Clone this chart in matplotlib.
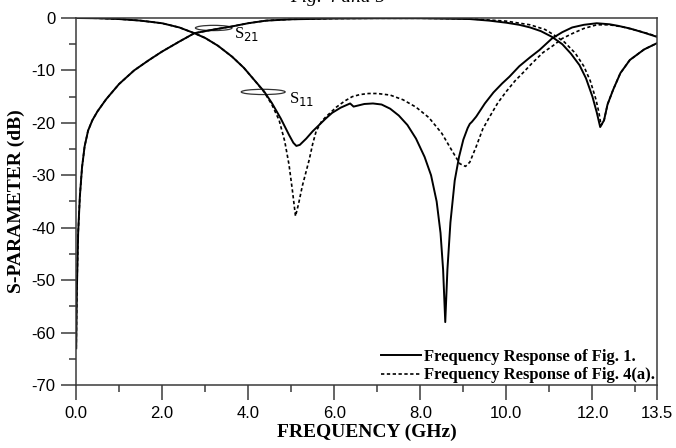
import numpy as np
import matplotlib.pyplot as plt
from matplotlib.ticker import MultipleLocator, FixedLocator
from matplotlib.patches import Ellipse

# S11, response of Fig. 1 (solid)
f_s11_a = [0.0, 0.5, 1.0, 1.5, 2.0, 2.4, 2.75, 3.0, 3.3, 3.63, 3.9, 4.15, 4.37,
           4.55, 4.76, 4.95, 5.05, 5.12, 5.2, 5.35, 5.5, 5.65, 5.8, 5.95, 6.15,
           6.37, 6.45, 6.55, 6.7, 6.9, 7.1, 7.3, 7.5, 7.7, 7.9, 8.1, 8.25, 8.38,
           8.47, 8.53, 8.58, 8.63, 8.7, 8.8, 8.9, 9.0, 9.1, 9.15, 9.2, 9.3, 9.5,
           9.7, 9.9, 10.07, 10.3, 10.55, 10.77, 11.06, 11.3, 11.53, 11.8, 12.1,
           12.4, 12.6, 12.87, 13.2, 13.5]
s11_a = [0.0, -0.05, -0.2, -0.5, -1.0, -1.8, -2.9, -3.8, -5.3, -7.4, -9.5, -11.9,
         -14.0, -16.2, -19.2, -22.3, -23.8, -24.4, -24.2, -23.0, -21.6, -20.4,
         -19.2, -18.1, -17.1, -16.3, -16.9, -16.7, -16.4, -16.3, -16.5, -17.3,
         -18.6, -20.4, -23.0, -26.5, -30.0, -35.0, -41.0, -48.0, -58.0, -48.0,
         -39.0, -31.0, -26.5, -23.2, -21.0, -20.2, -19.8, -18.8, -16.3, -14.2,
         -12.5, -11.2, -9.2, -7.5, -6.1, -3.9, -2.7, -1.8, -1.3, -1.0, -1.2,
         -1.5, -2.0, -2.8, -3.6]

# S11, response of Fig. 4(a) (dashed)
f_s11_b = [0.0, 0.5, 1.0, 1.5, 2.0, 2.4, 2.75, 3.0, 3.3, 3.63, 3.9, 4.15, 4.37,
           4.55, 4.72, 4.85, 4.95, 5.03, 5.1, 5.17, 5.26, 5.34, 5.42, 5.5, 5.58,
           5.7, 5.8, 6.05, 6.25, 6.42, 6.6, 6.8, 7.0, 7.3, 7.6, 7.9, 8.2, 8.5,
           8.75, 8.92, 9.05, 9.15, 9.3, 9.45, 9.6, 9.8, 10.0, 10.2, 10.38, 10.6,
           10.85, 11.08, 11.3, 11.55, 11.8, 12.1, 12.4, 12.7, 13.0, 13.3, 13.5]
s11_b = [0.0, -0.05, -0.2, -0.5, -1.0, -1.8, -2.9, -3.8, -5.3, -7.4, -9.5, -11.9,
         -14.1, -16.5, -19.5, -23.5, -28.0, -33.0, -37.8, -35.5, -32.0, -29.5,
         -27.0, -24.0, -21.6, -19.8, -18.9, -17.0, -15.8, -15.0, -14.6, -14.4,
         -14.4, -14.7, -15.6, -17.0, -19.0, -22.0, -25.5, -27.8, -28.3, -27.5,
         -24.5, -21.2, -19.0, -16.2, -14.0, -12.0, -10.5, -8.6, -6.6, -5.3,
         -3.9, -2.9, -2.0, -1.3, -1.3, -1.7, -2.3, -3.0, -3.5]

# S21, response of Fig. 1 (solid)
f_s21_a = [0.005, 0.02, 0.05, 0.09, 0.14, 0.2, 0.28, 0.38, 0.5, 0.7, 1.0, 1.35,
           1.7, 2.0, 2.4, 2.75, 3.2, 3.63, 4.0, 4.42, 5.0, 6.0, 7.0, 8.0, 9.15,
           9.6, 10.0, 10.3, 10.55, 10.8, 11.06, 11.3, 11.5, 11.7, 11.85, 12.0,
           12.1, 12.18, 12.27, 12.35, 12.48, 12.65, 12.87, 13.2, 13.5]
s21_a = [-63.0, -52.0, -41.0, -34.0, -28.5, -24.5, -21.5, -19.5, -17.8, -15.5,
         -12.6, -10.0, -8.0, -6.4, -4.5, -2.9, -2.2, -1.6, -1.0, -0.5, -0.25,
         -0.1, -0.05, -0.05, -0.2, -0.5, -0.9, -1.3, -1.8, -2.5, -3.6, -5.0,
         -6.8, -9.0, -11.5, -15.0, -18.0, -20.8, -19.5, -16.5, -13.7, -10.5,
         -8.0, -6.0, -4.8]

# S21, response of Fig. 4(a) (dashed)
f_s21_b = [0.005, 0.02, 0.05, 0.09, 0.14, 0.2, 0.28, 0.38, 0.5, 0.7, 1.0, 1.35,
           1.7, 2.0, 2.4, 2.75, 3.2, 3.63, 4.0, 4.42, 5.0, 6.0, 7.0, 8.0, 9.15,
           10.0, 10.55, 10.9, 11.1, 11.35, 11.6, 11.8, 11.95, 12.08, 12.15, 12.2,
           12.27, 12.35, 12.48, 12.65, 12.87, 13.2, 13.5]
s21_b = [-63.0, -52.0, -41.0, -34.0, -28.5, -24.5, -21.5, -19.5, -17.8, -15.5,
         -12.6, -10.0, -8.0, -6.4, -4.5, -2.9, -2.2, -1.6, -1.0, -0.5, -0.25,
         -0.1, -0.05, -0.05, -0.15, -0.6, -1.3, -2.2, -3.2, -4.6, -6.7, -9.2,
         -12.0, -15.5, -18.0, -20.5, -19.5, -16.5, -13.7, -10.5, -8.0, -6.0,
         -4.8]

x_ticks = [0.0, 2.0, 4.0, 6.0, 8.0, 10.0, 12.0, 13.5]
y_ticks = [0, -10, -20, -30, -40, -50, -60, -70]

serif = ['Liberation Serif', 'DejaVu Serif']
sans = ['Liberation Sans', 'DejaVu Sans']

fig = plt.figure(figsize=(6.76, 4.48), dpi=100)
ax = fig.add_axes([76 / 676, 1 - 385 / 448, 581 / 676, 367 / 448])

ax.plot(f_s11_a, s11_a, color='black', lw=1.4, label='Frequency Response of Fig. 1.')
ax.plot(f_s11_b, s11_b, color='black', lw=1.2, ls=(0, (2.0, 1.5)),
        label='Frequency Response of Fig. 4(a).')
ax.plot(f_s21_a, s21_a, color='black', lw=1.4)
ax.plot(f_s21_b, s21_b, color='black', lw=1.2, ls=(0, (2.0, 1.5)))

ax.set_xlim(0, 13.5)
ax.set_ylim(-70, 0)
ax.xaxis.set_major_locator(FixedLocator(x_ticks))
ax.xaxis.set_minor_locator(FixedLocator([1, 3, 5, 7, 9, 11, 13]))
ax.yaxis.set_major_locator(FixedLocator(y_ticks))
ax.yaxis.set_minor_locator(MultipleLocator(5))
ax.set_xticklabels(['%.1f' % t for t in x_ticks], family=sans, fontsize=12)
ax.set_yticklabels(['%d' % t for t in y_ticks], family=sans, fontsize=12)

for s in ax.spines.values():
    s.set_color('#3a3a3a')
    s.set_linewidth(1.1)
ax.tick_params(which='major', direction='out', length=11, width=1.1, color='#3a3a3a', pad=4)
ax.tick_params(which='minor', direction='out', length=5, width=1.1, color='#3a3a3a')

ax.set_xlabel('FREQUENCY (GHz)', family=serif, fontweight='bold', fontsize=14, labelpad=2)
ax.set_ylabel('S-PARAMETER (dB)', family=serif, fontweight='bold', fontsize=14, labelpad=4)

# label ellipses
ax.add_patch(Ellipse((3.2, -1.9), 0.85, 1.0, fill=False, lw=0.9, color='#333333'))
ax.add_patch(Ellipse((4.35, -14.1), 1.02, 1.0, fill=False, lw=0.9, color='#333333'))
ax.text(3.67, -3.8, 'S$_{21}$', family=serif, fontsize=12)
ax.text(4.95, -16.2, 'S$_{11}$', family=serif, fontsize=12)

leg = ax.legend(loc='lower right', bbox_to_anchor=(1.0, 0.0), frameon=False,
                prop={'family': serif, 'weight': 'bold', 'size': 12},
                handlelength=2.4, handletextpad=0.2, labelspacing=0.15,
                borderpad=0.1, borderaxespad=0.0)

# caption of the page above, cut off at the top edge as in the source
fig.text(0.5, 1 - 2 / 448, 'Fig. 4 and 5', family=serif, style='italic',
         fontsize=14, ha='center', va='baseline')

fig.savefig('out.png', dpi=100)
